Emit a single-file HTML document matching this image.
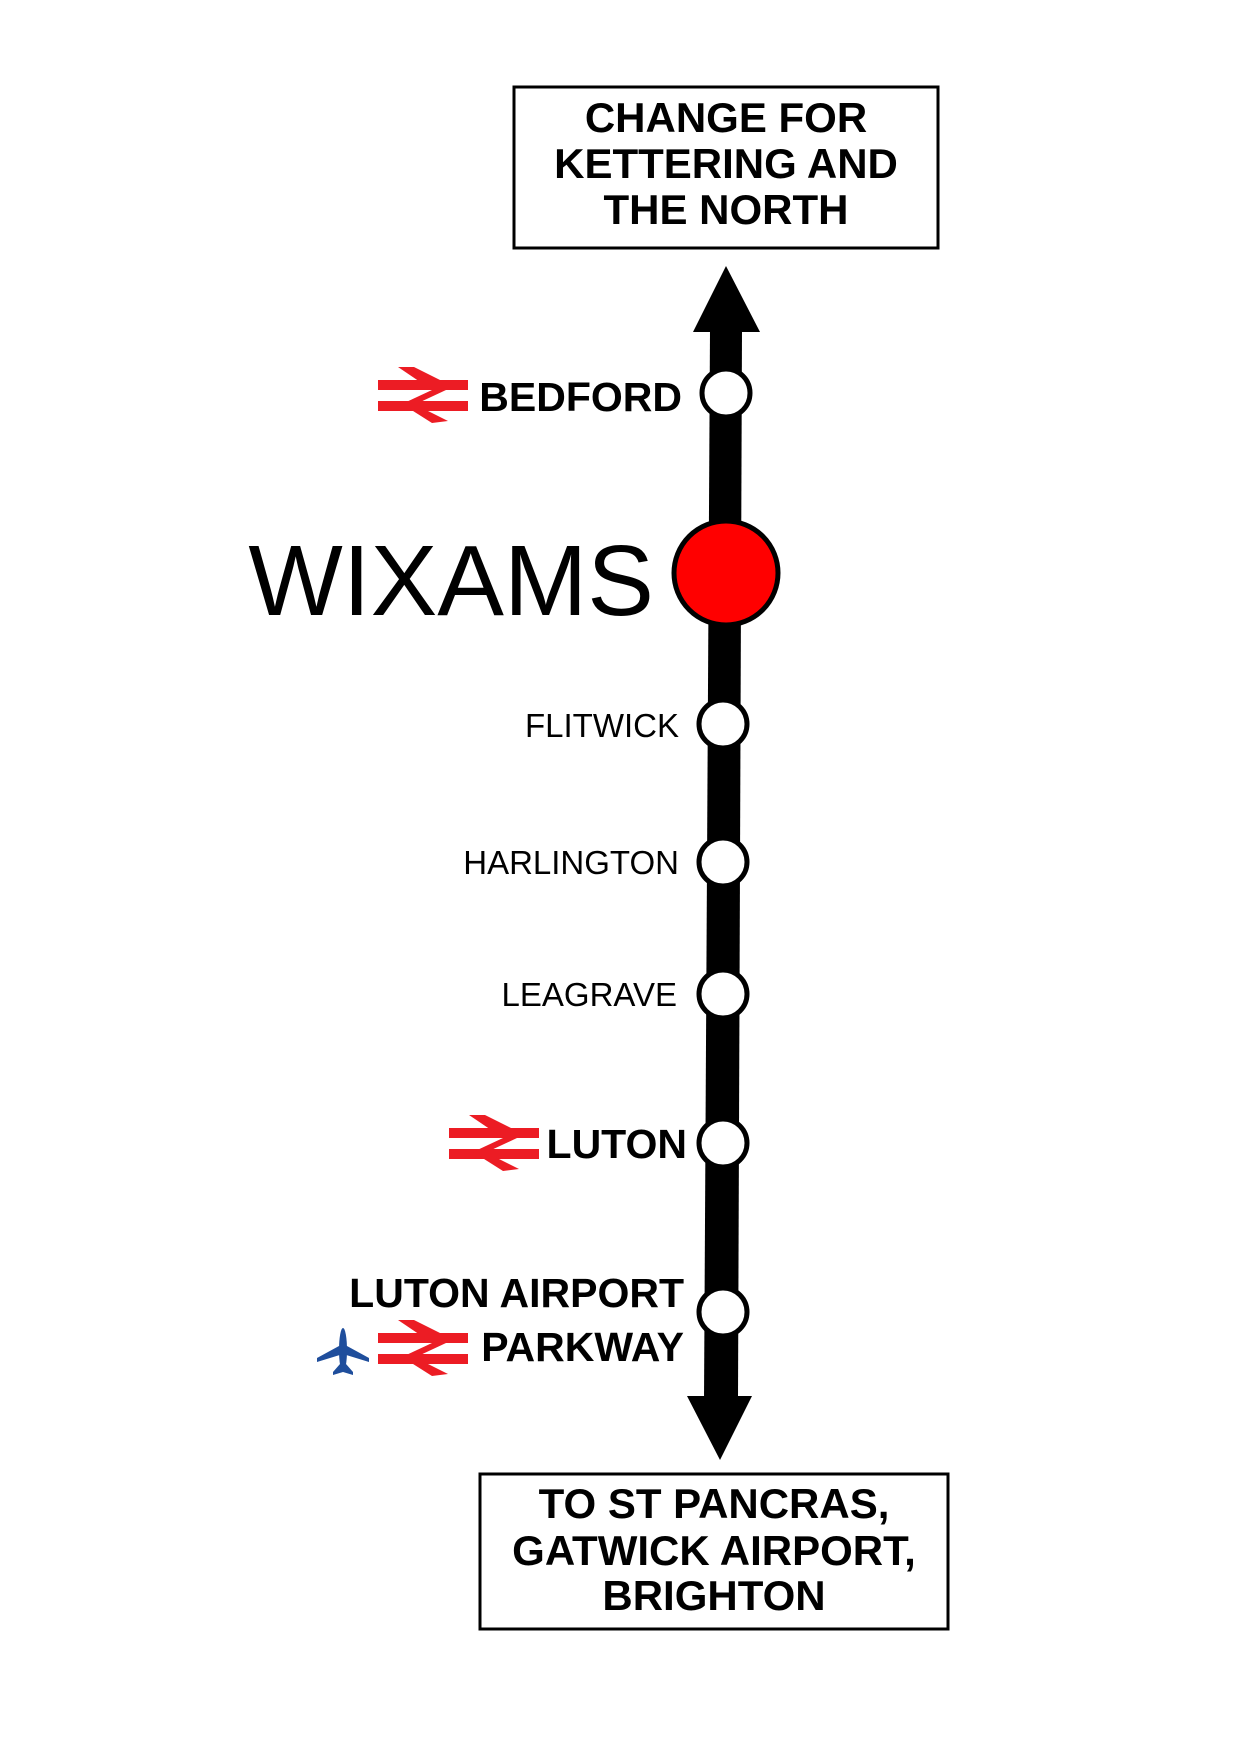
<!DOCTYPE html>
<html><head><meta charset="utf-8"><style>
html,body{margin:0;padding:0;background:#fff;}
svg{display:block;}
text{font-family:"Liberation Sans",Arial,sans-serif;}
</style></head><body>
<svg width="1240" height="1754" viewBox="0 0 1240 1754" xmlns="http://www.w3.org/2000/svg">
<defs>
<g id="br">
<rect x="0" y="13" width="90" height="10" fill="#ec1c24"/>
<rect x="0" y="34" width="90" height="10" fill="#ec1c24"/>
<polygon points="20,0 36,0 72,18 66,23 54,23" fill="#ec1c24"/>
<polygon points="54,23 68,23 38,37 24,37" fill="#ec1c24"/>
<polygon points="24,37 36,37 70,54 54,56" fill="#ec1c24"/>
</g>
</defs>
<rect x="514" y="87" width="424" height="161" fill="#fff" stroke="#000" stroke-width="3"/>
<g font-weight="bold" font-size="42" text-anchor="middle" fill="#000">
<text x="726" y="132">CHANGE FOR</text>
<text x="726" y="178">KETTERING AND</text>
<text x="726" y="224">THE NORTH</text>
</g>
<polygon points="710,330 742,330 738,1400 704,1400" fill="#000"/>
<polygon points="726,266 760,332 693,332" fill="#000"/>
<polygon points="687,1396 752,1396 720,1460" fill="#000"/>
<g fill="#fff" stroke="#000" stroke-width="5">
<circle cx="726" cy="393" r="24"/>
<circle cx="723" cy="724" r="24"/>
<circle cx="723" cy="862" r="24"/>
<circle cx="723" cy="994" r="24"/>
<circle cx="723" cy="1143" r="24"/>
<circle cx="723" cy="1312" r="24"/>
</g>
<circle cx="726" cy="573" r="52" fill="#ff0000" stroke="#000" stroke-width="5"/>
<g font-weight="bold" font-size="41" text-anchor="end" fill="#000">
<text x="682" y="411">BEDFORD</text>
<text x="687" y="1158">LUTON</text>
<text x="684" y="1307">LUTON AIRPORT</text>
<text x="684" y="1361">PARKWAY</text>
</g>
<text x="654" y="615" font-size="100" text-anchor="end" fill="#000">WIXAMS</text>
<g font-size="33" text-anchor="end" fill="#000">
<text x="679" y="737">FLITWICK</text>
<text x="679" y="874">HARLINGTON</text>
<text x="677" y="1006">LEAGRAVE</text>
</g>
<use href="#br" x="378" y="367"/>
<use href="#br" x="449" y="1115"/>
<use href="#br" x="378" y="1320"/>
<g fill="#1f4e9c" transform="translate(343,1350)">
<ellipse cx="0" cy="0" rx="4" ry="22"/>
<polygon points="-4,-4 4,-4 26,8 26,12 0,4 -26,12 -26,8"/>
<polygon points="-3,14 3,14 10,22 10,25 0,22 -10,25 -10,22"/>
</g>
<rect x="480" y="1474" width="468" height="155" fill="#fff" stroke="#000" stroke-width="3"/>
<g font-weight="bold" font-size="42" text-anchor="middle" fill="#000">
<text x="714" y="1518">TO ST PANCRAS,</text>
<text x="714" y="1565">GATWICK AIRPORT,</text>
<text x="714" y="1610">BRIGHTON</text>
</g>
</svg>
</body></html>
